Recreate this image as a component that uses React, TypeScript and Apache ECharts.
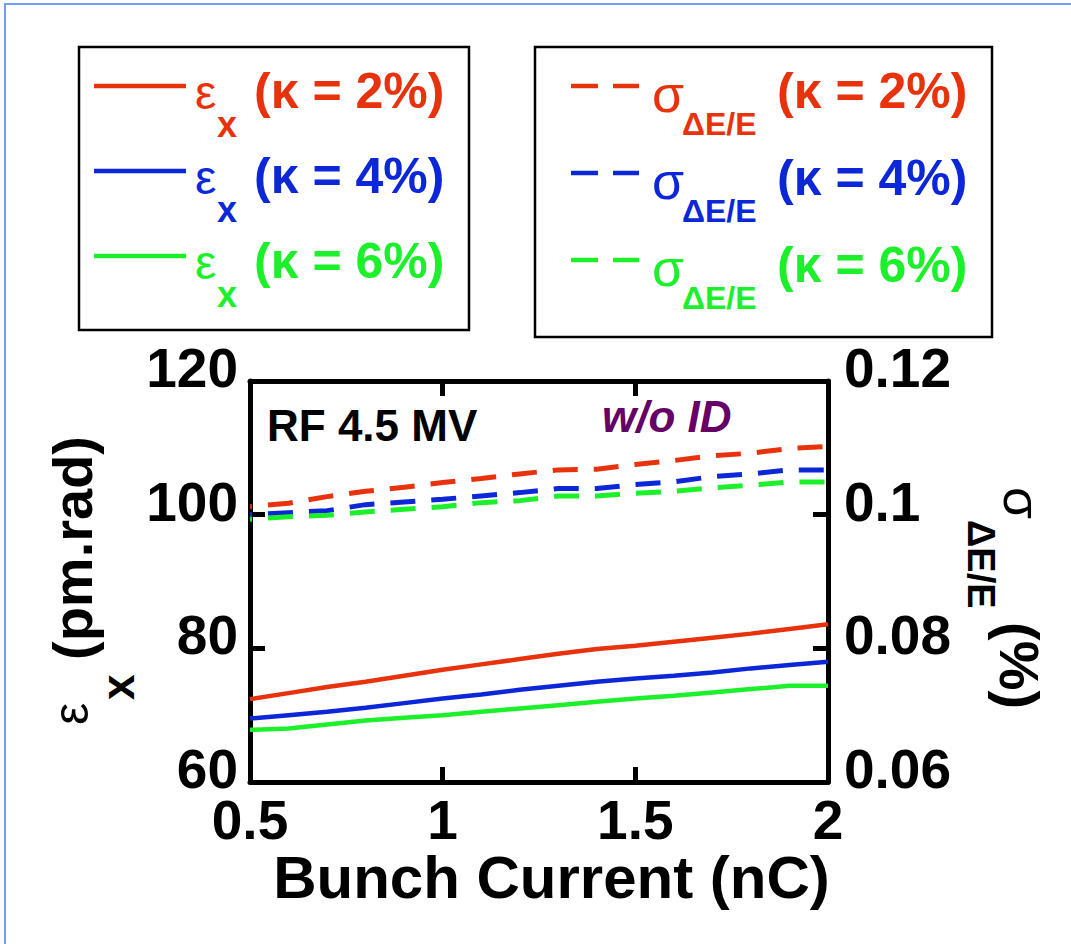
import React, { useEffect, useRef } from "react";
import * as echarts from "echarts";

// ---------- data ----------
const bunchCharge = [0.5, 0.6, 0.7, 0.8, 0.9, 1.0, 1.1, 1.2, 1.3, 1.4, 1.5, 1.6, 1.7, 1.8, 1.9, 2.0];
const emitK2 = [72.4, 73.3, 74.2, 75.0, 75.9, 76.8, 77.6, 78.4, 79.2, 79.9, 80.4, 81.0, 81.6, 82.2, 82.9, 83.6];
const emitK4 = [69.5, 70.0, 70.5, 71.1, 71.8, 72.5, 73.1, 73.8, 74.4, 75.0, 75.5, 75.9, 76.4, 77.0, 77.5, 78.0];
const emitK6 = [67.8, 68.0, 68.6, 69.2, 69.6, 70.0, 70.5, 71.0, 71.5, 72.0, 72.5, 72.9, 73.4, 73.9, 74.4, 74.4];
const sigmaK2 = [0.1012, 0.1017, 0.1027, 0.1035, 0.1041, 0.1048, 0.1054, 0.1061, 0.1067, 0.1068, 0.1075, 0.1081, 0.1088, 0.1092, 0.1099, 0.1102];
const sigmaK4 = [0.1, 0.1003, 0.1006, 0.1015, 0.1019, 0.1023, 0.1028, 0.1033, 0.1039, 0.1039, 0.1045, 0.1049, 0.1057, 0.1061, 0.1067, 0.1067];
const sigmaK6 = [0.0993, 0.0997, 0.0999, 0.1004, 0.1008, 0.1012, 0.1018, 0.1021, 0.1028, 0.1028, 0.1032, 0.1035, 0.104, 0.1044, 0.1049, 0.1049];
const kappaLabels = ["(κ = 2%)", "(κ = 4%)", "(κ = 6%)"];
const xTitle = "Bunch Current (nC)";
const annotationRF = "RF 4.5 MV";
const annotationID = "w/o ID";

const RED = "#E8320C";
const BLUE = "#0B27D8";
const GREEN = "#1CF02A";
const COLORS = [RED, BLUE, GREEN];
const PURPLE = "#660066";
const FONT = '"Liberation Sans", Arial, Helvetica, sans-serif';

const pairs = (ys: number[]) => bunchCharge.map((x, i) => [x, ys[i]]);

function txt(
  text: string,
  x: number,
  y: number,
  size: number,
  color: string,
  weight = "bold",
  style = "normal",
  align = "left"
) {
  return {
    type: "text",
    x,
    y,
    silent: true,
    style: {
      text,
      fill: color,
      font: `${style} ${weight} ${size}px ${FONT}`,
      align,
      verticalAlign: "middle",
      textAlign: align,
      textVerticalAlign: "middle",
    },
  };
}

function hline(x1: number, x2: number, y: number, color: string) {
  return {
    type: "line",
    silent: true,
    shape: { x1, y1: y, x2, y2: y },
    style: { stroke: color, lineWidth: 4.5 },
  };
}

export default function App() {
  const ref = useRef<HTMLDivElement>(null);
  useEffect(() => {
    if (!ref.current) return;
    const chart = echarts.init(ref.current, undefined, { renderer: "svg" });

    const graphics: any[] = [];
    // outer light-blue frame
    graphics.push({
      type: "rect",
      silent: true,
      shape: { x: 5, y: 4, width: 1100, height: 1000 },
      style: { fill: "none", stroke: "#6E9EF5", lineWidth: 2 },
    });
    // legend boxes
    graphics.push({
      type: "rect",
      silent: true,
      shape: { x: 79, y: 47, width: 390, height: 283 },
      style: { fill: "none", stroke: "#000", lineWidth: 2.5 },
    });
    graphics.push({
      type: "rect",
      silent: true,
      shape: { x: 535, y: 47, width: 457, height: 290 },
      style: { fill: "none", stroke: "#000", lineWidth: 2.5 },
    });
    for (let i = 0; i < 3; i++) {
      const c = COLORS[i];
      const dl = i * 85;
      graphics.push(hline(94, 186, 86 + dl, c));
      graphics.push(txt("ε", 195, 92 + dl, 48, c, "normal"));
      graphics.push(txt("x", 217, 124 + dl, 36, c));
      graphics.push(txt(kappaLabels[i], 254, 90.5 + dl, 50, c));

      const dr = i * 87;
      graphics.push(hline(571, 598, 86 + dr, c));
      graphics.push(hline(613, 639, 86 + dr, c));
      graphics.push(txt("σ", 652, 93.5 + dr, 52, c, "normal"));
      graphics.push(txt("ΔE/E", 682, 124 + dr, 32, c));
      graphics.push(txt(kappaLabels[i], 777, 90.5 + dr, 50, c));
    }
    // annotations in plot
    graphics.push(txt(annotationRF, 267, 425.5, 44, "#000"));
    graphics.push(txt(annotationID, 602, 416, 44, PURPLE, "bold", "italic"));

    // left axis title (rotated, reading bottom to top)
    graphics.push({
      type: "group",
      x: 92,
      y: 725,
      rotation: Math.PI / 2,
      children: [
        txt("ε", 0, -21, 50, "#000", "normal"),
        txt("x", 25, 26, 46, "#000"),
        txt("(pm.rad)", 65, -20, 56, "#000"),
      ],
    });
    // right axis title (rotated, reading top to bottom)
    graphics.push({
      type: "group",
      x: 1001,
      y: 487,
      rotation: -Math.PI / 2,
      children: [
        txt("σ", 0, -21, 52, "#000", "normal"),
        txt("ΔE/E", 33, 20, 38, "#000"),
        txt("(%)", 135, -18, 56, "#000"),
      ],
    });

    const axisLineStyle = { color: "#000", width: 5 };
    const tick = { show: true, inside: true, length: 15, lineStyle: { color: "#000", width: 5 } };
    const labelStyle = { fontSize: 55, fontWeight: "bold", color: "#000", fontFamily: FONT };

    const solid = (name: string, ys: number[], color: string) => ({
      name,
      type: "line",
      xAxisIndex: 0,
      yAxisIndex: 0,
      data: pairs(ys),
      showSymbol: false,
      symbol: "none",
      lineStyle: { color, width: 4.5 },
      itemStyle: { color },
    });
    const dashed = (name: string, ys: number[], color: string) => ({
      name,
      type: "line",
      xAxisIndex: 0,
      yAxisIndex: 1,
      data: pairs(ys),
      showSymbol: false,
      symbol: "none",
      lineStyle: { color, width: 5, type: [25, 16], dashOffset: 23 },
      itemStyle: { color },
    });

    const option: any = {
      animation: false,
      backgroundColor: "#ffffff",
      grid: { left: 250, top: 381, width: 578, height: 401 },
      xAxis: [
        {
          type: "value",
          position: "bottom",
          min: 0.5,
          max: 2,
          interval: 0.5,
          axisLine: { show: true, onZero: false, lineStyle: axisLineStyle },
          axisTick: tick,
          splitLine: { show: false },
          axisLabel: { ...labelStyle, margin: 10, formatter: (v: number) => String(v) },
          name: xTitle,
          nameLocation: "middle",
          nameGap: 63,
          nameTextStyle: {
            fontSize: 60,
            fontWeight: "bold",
            color: "#000",
            fontFamily: FONT,
            padding: [0, 0, 0, 25],
          },
        },
        {
          type: "value",
          position: "top",
          min: 0.5,
          max: 2,
          interval: 0.5,
          axisLine: { show: true, onZero: false, lineStyle: axisLineStyle },
          axisTick: tick,
          splitLine: { show: false },
          axisLabel: { show: false },
        },
      ],
      yAxis: [
        {
          type: "value",
          position: "left",
          min: 60,
          max: 120,
          interval: 20,
          axisLine: { show: true, onZero: false, lineStyle: axisLineStyle },
          axisTick: tick,
          splitLine: { show: false },
          axisLabel: { ...labelStyle, margin: 12, verticalAlign: "bottom", lineHeight: 26 },
        },
        {
          type: "value",
          position: "right",
          min: 0.06,
          max: 0.12,
          interval: 0.02,
          axisLine: { show: true, onZero: false, lineStyle: axisLineStyle },
          axisTick: tick,
          splitLine: { show: false },
          axisLabel: {
            ...labelStyle,
            margin: 16,
            verticalAlign: "bottom",
            lineHeight: 26,
            formatter: (v: number) => String(Number(v.toFixed(2))),
          },
        },
      ],
      series: [
        dashed("σ κ=2%", sigmaK2, RED),
        dashed("σ κ=4%", sigmaK4, BLUE),
        dashed("σ κ=6%", sigmaK6, GREEN),
        solid("ε κ=2%", emitK2, RED),
        solid("ε κ=4%", emitK4, BLUE),
        solid("ε κ=6%", emitK6, GREEN),
      ],
      graphic: graphics,
    };
    chart.setOption(option);
    return () => chart.dispose();
  }, []);

  return (
    <div
      ref={ref}
      style={{ position: "absolute", left: 0, top: 0, width: 1071, height: 944, background: "#fff" }}
    />
  );
}
